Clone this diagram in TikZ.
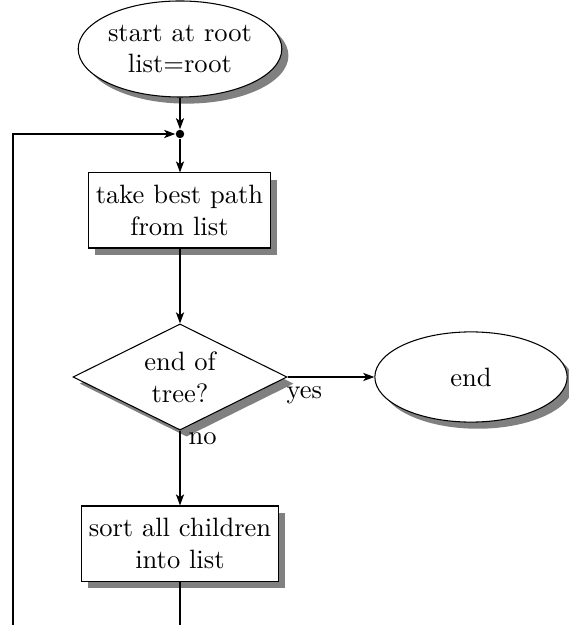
\documentclass[tikz,border=0pt]{standalone}
\usetikzlibrary{shapes.geometric,shadows,arrows.meta}
\begin{document}
\begin{tikzpicture}[x=0.377pt,y=-0.377pt,
  shade/.style={drop shadow={shadow xshift=2.5pt,shadow yshift=-2.5pt,fill=black!50,opacity=1}},
  terminal/.style={ellipse,draw,fill=white,shade,align=center,inner sep=0pt},
  process/.style={rectangle,draw,fill=white,shade,align=center,inner sep=2pt},
  decision/.style={diamond,draw,fill=white,shade,align=center,aspect=2,inner sep=1pt},
  flow/.style={-{Stealth[length=4.2pt,width=3.1pt,inset=1.1pt]}},
  tag/.style={inner sep=0pt,anchor=base west}]
\useasboundingbox (0,0) rectangle (568,625);

% nodes of the flow chart
\node[terminal,minimum width=74pt,minimum height=36.2pt] (start) at (180,49) {start at root\\list=root};
\node[circle,fill,inner sep=0pt,minimum size=3.2pt] (join) at (180,134) {};
\node[process,minimum width=68.7pt,minimum height=28.3pt] (take) at (179.5,210.5) {take best path\\from list};
\node[decision,minimum width=80.7pt,minimum height=40pt] (test) at (180,377) {end of\\tree?};
\node[terminal,minimum width=72.5pt,minimum height=34pt] (stop) at (471,377) {end};
\node[process,minimum width=74pt,minimum height=28.3pt] (sort) at (180,543.5) {sort all children\\into list};

% loop back from the bottom
\coordinate (loopL) at (13,625);
\coordinate (loopR) at (180,625);

% connectors
\draw[flow] (start) -- (join);
\draw[flow] (loopL) |- (join);
\draw[flow] (join) -- (take.north -| join);
\draw[flow] (take.south -| join) -- (test);
\draw[flow] (test) -- (stop);
\draw[flow] (test) -- (sort);
\draw (sort) -- (loopR);

% branch labels
\node[tag] at (286,398) {yes};
\node[tag] at (188,444) {no};
\end{tikzpicture}
\end{document}
